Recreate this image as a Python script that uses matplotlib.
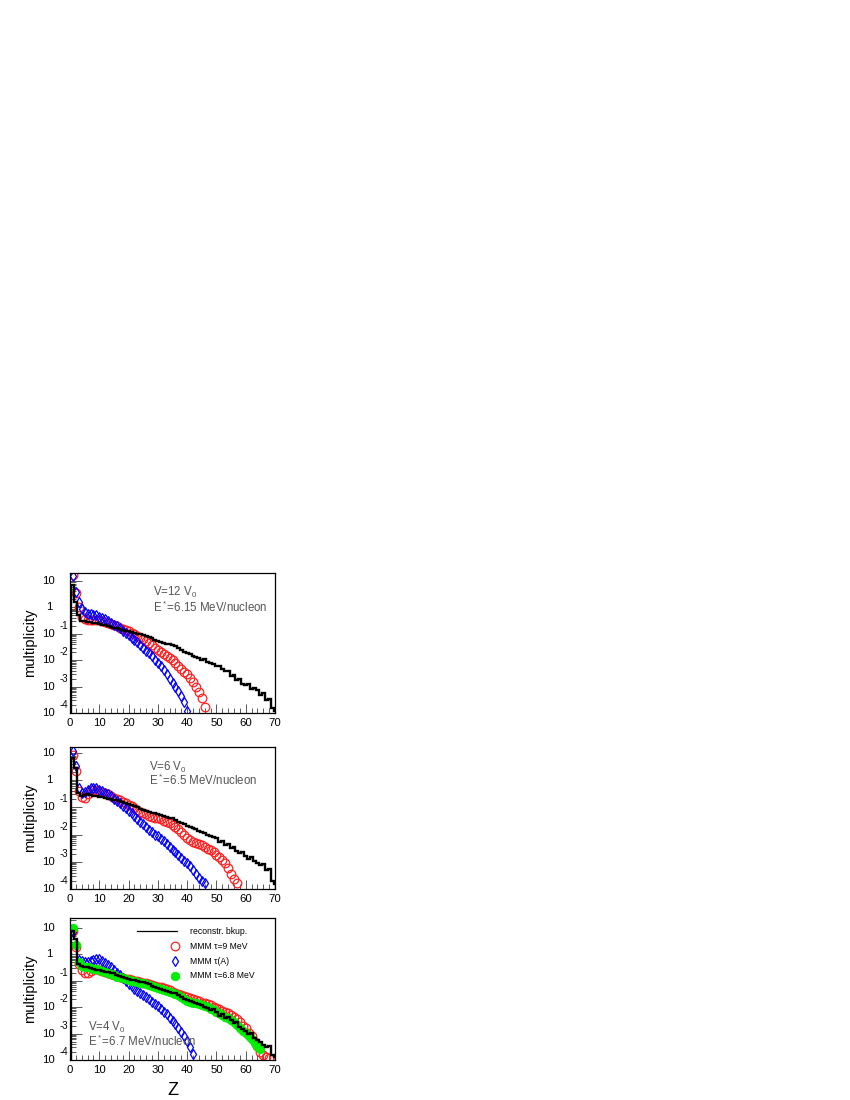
import numpy as np
import matplotlib
matplotlib.use("Agg")
import matplotlib.pyplot as plt
from matplotlib.transforms import blended_transform_factory, ScaledTranslation
from matplotlib.ticker import LogLocator, MultipleLocator, NullFormatter

plt.rcParams['font.family'] = ['Liberation Sans', 'DejaVu Sans']
plt.rcParams['mathtext.fontset'] = 'custom'
plt.rcParams['mathtext.rm'] = 'Liberation Sans'
plt.rcParams['mathtext.it'] = 'Liberation Sans'

# ---------------- data ----------------
# Panel 1: V = 12 V0, E* = 6.15 MeV/nucleon
black1 = [7, 1.6, 0.5, 0.3, 0.3, 0.27, 0.28, 0.26, 0.25, 0.24,
          0.22, 0.21, 0.19, 0.18, 0.17, 0.16, 0.15, 0.14, 0.13, 0.125,
          0.12, 0.11, 0.1, 0.095, 0.088, 0.08, 0.075, 0.068, 0.06, 0.055,
          0.05, 0.046, 0.042, 0.04, 0.036, 0.033, 0.03, 0.024, 0.02, 0.018,
          0.017, 0.014, 0.013, 0.012, 0.0105, 0.011, 0.0085, 0.008, 0.007, 0.0062,
          0.006, 0.0045, 0.0038, 0.004, 0.0026, 0.0028, 0.0018, 0.002, 0.0012, 0.0011,
          0.0013, 0.0008, 0.0009, 0.00075, 0.0005, 0.00055, 0.0003, 0.00035, 0.00016, 0.00012]
red1 = [17, 3.6, 1.0, 0.45, 0.35, 0.32, 0.33, 0.34, 0.33, 0.32,
        0.3, 0.28, 0.26, 0.24, 0.21, 0.19, 0.17, 0.155, 0.14, 0.125,
        0.11, 0.095, 0.085, 0.072, 0.062, 0.052, 0.043, 0.036, 0.03, 0.025,
        0.021, 0.017, 0.014, 0.012, 0.01, 0.008, 0.0062, 0.0048, 0.0037, 0.0029,
        0.0022, 0.0015, 0.001, 0.0006, 0.00038, 0.00017]
blue1 = [16, 3.8, 1.6, 0.9, 0.65, 0.58, 0.55, 0.53, 0.5, 0.45,
         0.4, 0.35, 0.3, 0.26, 0.22, 0.19, 0.16, 0.13, 0.11, 0.09,
         0.072, 0.058, 0.047, 0.037, 0.029, 0.023, 0.018, 0.014, 0.0105, 0.008,
         0.006, 0.0042, 0.003, 0.002, 0.0014, 0.001, 0.0007, 0.00045, 0.00025, 0.00012]

# Panel 2: V = 6 V0, E* = 6.5 MeV/nucleon
black2 = [6.5, 2.8, 0.35, 0.26, 0.28, 0.3, 0.28, 0.27, 0.26, 0.25,
          0.24, 0.22, 0.21, 0.2, 0.19, 0.18, 0.165, 0.155, 0.145, 0.135,
          0.12, 0.11, 0.1, 0.09, 0.082, 0.075, 0.07, 0.064, 0.06, 0.056,
          0.052, 0.048, 0.045, 0.042, 0.04, 0.034, 0.03, 0.026, 0.024, 0.021,
          0.019, 0.017, 0.016, 0.013, 0.012, 0.011, 0.0095, 0.0085, 0.0082, 0.0072,
          0.0055, 0.0058, 0.0042, 0.0045, 0.0032, 0.0035, 0.0025, 0.0021, 0.0023, 0.0017,
          0.0013, 0.0015, 0.0011, 0.0009, 0.00075, 0.00085, 0.0005, 0.00055, 0.00019, 0.00015]
red2 = [8.7, 2.1, 0.4, 0.25, 0.22, 0.3, 0.42, 0.45, 0.43, 0.4,
        0.36, 0.33, 0.3, 0.26, 0.23, 0.2, 0.18, 0.16, 0.14, 0.125,
        0.11, 0.095, 0.082, 0.07, 0.062, 0.055, 0.05, 0.046, 0.042, 0.04,
        0.036, 0.032, 0.029, 0.026, 0.023, 0.019, 0.016, 0.012, 0.0095, 0.0075,
        0.0062, 0.0055, 0.0048, 0.0045, 0.0042, 0.0036, 0.003, 0.0027, 0.0022, 0.0018,
        0.0015, 0.0012, 0.0009, 0.0006, 0.00035, 0.00024, 0.00016]
blue2 = [11.5, 3.2, 0.5, 0.33, 0.38, 0.45, 0.5, 0.52, 0.5, 0.45,
         0.4, 0.35, 0.3, 0.26, 0.21, 0.17, 0.14, 0.115, 0.095, 0.075,
         0.06, 0.048, 0.038, 0.03, 0.024, 0.019, 0.015, 0.012, 0.01, 0.0085,
         0.007, 0.0058, 0.0045, 0.0035, 0.0028, 0.0022, 0.0018, 0.0014, 0.0011, 0.00088,
         0.0007, 0.00052, 0.00035, 0.00025, 0.0002, 0.00016]

# Panel 3: V = 4 V0, E* = 6.7 MeV/nucleon
black3 = [8, 4, 0.45, 0.36, 0.34, 0.32, 0.3, 0.28, 0.26, 0.25,
          0.24, 0.22, 0.21, 0.2, 0.19, 0.17, 0.155, 0.14, 0.13, 0.12,
          0.11, 0.105, 0.1, 0.092, 0.087, 0.08, 0.074, 0.066, 0.058, 0.052,
          0.05, 0.045, 0.042, 0.039, 0.036, 0.034, 0.03, 0.025, 0.021, 0.018,
          0.017, 0.016, 0.014, 0.013, 0.012, 0.01, 0.0095, 0.008, 0.0085, 0.0066,
          0.0048, 0.0055, 0.0038, 0.0042, 0.0032, 0.0025, 0.0028, 0.0018, 0.0015, 0.0013,
          0.001, 0.0011, 0.0007, 0.00055, 0.0005, 0.00038, 0.00032, 0.00035, 0.00015, 0.00013]
red3 = [8, 1.9, 0.45, 0.25, 0.2, 0.2, 0.24, 0.28, 0.27, 0.25,
        0.23, 0.21, 0.19, 0.175, 0.16, 0.15, 0.14, 0.13, 0.12, 0.115,
        0.108, 0.1, 0.095, 0.09, 0.086, 0.08, 0.075, 0.07, 0.065, 0.06,
        0.056, 0.052, 0.047, 0.043, 0.038, 0.035, 0.032, 0.029, 0.027, 0.025,
        0.023, 0.021, 0.019, 0.017, 0.015, 0.014, 0.013, 0.012, 0.0105, 0.009,
        0.0082, 0.0075, 0.0068, 0.006, 0.005, 0.0042, 0.0035, 0.0027, 0.002, 0.0016,
        0.0011, 0.0008, 0.0005, 0.00033, 0.0002, 0.00015, 0.00013, 0.00012]
green3 = [10, 2.2, 0.5, 0.35, 0.33, 0.32, 0.3, 0.29, 0.27, 0.25,
          0.23, 0.21, 0.19, 0.175, 0.16, 0.145, 0.135, 0.125, 0.115, 0.11,
          0.1, 0.095, 0.09, 0.085, 0.08, 0.074, 0.068, 0.062, 0.057, 0.052,
          0.048, 0.045, 0.041, 0.038, 0.036, 0.032, 0.028, 0.024, 0.02, 0.017,
          0.016, 0.015, 0.014, 0.013, 0.012, 0.011, 0.0098, 0.0088, 0.0078, 0.0066,
          0.0058, 0.005, 0.0044, 0.0038, 0.0033, 0.0028, 0.0022, 0.0017, 0.0013, 0.0011,
          0.0008, 0.0006, 0.00044, 0.00033, 0.00025]
blue3 = [7, 2.2, 0.6, 0.55, 0.5, 0.5, 0.55, 0.62, 0.7, 0.65,
         0.58, 0.47, 0.4, 0.32, 0.25, 0.2, 0.16, 0.125, 0.1, 0.077,
         0.062, 0.05, 0.042, 0.035, 0.03, 0.025, 0.02, 0.016, 0.013, 0.011,
         0.0085, 0.0068, 0.0053, 0.004, 0.003, 0.0023, 0.0017, 0.0012, 0.0008, 0.00053,
         0.0003, 0.00017]

panel_text1 = ["V=12 V$_0$", "E$^*$=6.15 MeV/nucleon"]
panel_text2 = ["V=6 V$_0$", "E$^*$=6.5 MeV/nucleon"]
panel_text3 = ["V=4 V$_0$", "E$^*$=6.7 MeV/nucleon"]
legend_labels = ["reconstr. bkup.", "MMM \u03c4=9 MeV", "MMM \u03c4(A)", "MMM \u03c4=6.8 MeV"]
ytick_vals = [10, 1, 1e-1, 1e-2, 1e-3, 1e-4]
ytick_base = ["10", "1", "10", "10", "10", "10"]
ytick_exp = ["", "", "-1", "-2", "-3", "-4"]
xtick_vals = [0, 10, 20, 30, 40, 50, 60, 70]

RED = '#ff2020'
BLUE = '#0000ff'
GREEN = '#00ee00'
TXT = '#555555'

fig = plt.figure(figsize=(8.5, 11), dpi=100)
W, H = 850.0, 1100.0

def make_ax(top, bottom, ymax):
    ax = fig.add_axes([70 / W, 1 - bottom / H, 205 / W, (bottom - top) / H])
    ax.set_xlim(0, 70)
    ax.set_yscale('log')
    ax.set_ylim(1e-4, ymax)
    for s in ax.spines.values():
        s.set_linewidth(0.9)
        s.set_color('black')
        s.set_zorder(5)
    ax.yaxis.set_major_locator(LogLocator(base=10, numticks=10))
    ax.yaxis.set_minor_locator(LogLocator(base=10, subs=np.arange(2, 10), numticks=20))
    ax.yaxis.set_major_formatter(NullFormatter())
    ax.yaxis.set_minor_formatter(NullFormatter())
    ax.xaxis.set_major_locator(MultipleLocator(10))
    ax.xaxis.set_minor_locator(MultipleLocator(2))
    ax.tick_params(axis='y', which='major', direction='in', length=8.5, width=0.7,
                   color='0.35', left=True, right=False)
    ax.tick_params(axis='y', which='minor', direction='in', length=4, width=0.7,
                   color='0.35', left=True, right=False)
    ax.tick_params(axis='x', which='major', direction='in', length=6.5, width=0.7,
                   color='0.35', bottom=True, top=False, labelsize=8.2, pad=3.5)
    ax.tick_params(axis='x', which='minor', direction='in', length=3.3, width=0.7,
                   color='0.35', bottom=True, top=False)
    ax.set_xticks(xtick_vals)
    ax.set_xticklabels([str(v) for v in xtick_vals])
    tr = blended_transform_factory(ax.transAxes, ax.transData)
    up = ScaledTranslation(0, 8 / 100.0, fig.dpi_scale_trans)
    for v, b, e in zip(ytick_vals, ytick_base, ytick_exp):
        ax.text(-0.103, v, b, transform=tr, ha='center', va='center', fontsize=8.2)
        if e:
            ax.text(-0.032, v, e, transform=tr + up, ha='center', va='center', fontsize=7)
    ax.text(-0.195, 0.5, "multiplicity", transform=ax.transAxes, rotation=90,
            ha='center', va='center', fontsize=10.5)
    return ax

def hist(ax, vals):
    z = np.arange(1, len(vals) + 1)
    edges = np.concatenate([z - 0.5, [z[-1] + 0.5]])
    ax.stairs(vals, edges, color='black', linewidth=1.7, baseline=1e-6, fill=False, zorder=4)

def circles(ax, vals, color=RED):
    z = np.arange(1, len(vals) + 1)
    ax.plot(z, vals, 'o', ms=6.2, mfc='none', mec=color, mew=0.9, linestyle='none', zorder=2)

def diamonds(ax, vals):
    z = np.arange(1, len(vals) + 1)
    ax.plot(z, vals, 'd', ms=5.4, mfc='none', mec=BLUE, mew=0.9, linestyle='none', zorder=2)

def greens(ax, vals):
    z = np.arange(1, len(vals) + 1)
    ax.plot(z, vals, 'o', ms=6.2, mfc=GREEN, mec=GREEN, mew=0.5, linestyle='none', zorder=3)

# Panel 1
ax1 = make_ax(573, 713, 20)
circles(ax1, red1)
diamonds(ax1, blue1)
hist(ax1, black1)
ax1.text(0.405, 0.864, panel_text1[0], transform=ax1.transAxes, fontsize=8.3, color=TXT, va='center')
ax1.text(0.405, 0.757, panel_text1[1], transform=ax1.transAxes, fontsize=8.3, color=TXT, va='center')

# Panel 2
ax2 = make_ax(747, 889, 16.5)
circles(ax2, red2)
diamonds(ax2, blue2)
hist(ax2, black2)
ax2.text(0.385, 0.859, panel_text2[0], transform=ax2.transAxes, fontsize=8.3, color=TXT, va='center')
ax2.text(0.385, 0.766, panel_text2[1], transform=ax2.transAxes, fontsize=8.3, color=TXT, va='center')

# Panel 3
ax3 = make_ax(918, 1060, 24)
circles(ax3, red3)
diamonds(ax3, blue3)
greens(ax3, green3)
hist(ax3, black3)
ax3.text(0.088, 0.232, panel_text3[0], transform=ax3.transAxes, fontsize=8.3, color=TXT, va='center', zorder=6)
ax3.text(0.088, 0.134, panel_text3[1], transform=ax3.transAxes, fontsize=8.3, color=TXT, va='center', zorder=6)
ax3.set_xlabel("Z", fontsize=13, labelpad=5)

# Legend (panel 3), drawn in axes coordinates
lx0, lx1, mx, tx = 0.327, 0.522, 0.51, 0.585
ly = [0.906, 0.801, 0.697, 0.592]
ax3.plot([lx0, lx1], [ly[0], ly[0]], color='black', lw=0.9, transform=ax3.transAxes, clip_on=False)
ax3.plot([mx], [ly[1]], 'o', ms=6.2, mfc='none', mec=RED, mew=0.9, transform=ax3.transAxes)
ax3.plot([mx], [ly[2]], 'd', ms=5.4, mfc='none', mec=BLUE, mew=0.9, transform=ax3.transAxes)
ax3.plot([mx], [ly[3]], 'o', ms=6.2, mfc=GREEN, mec=GREEN, mew=0.5, transform=ax3.transAxes)
for y, lab in zip(ly, legend_labels):
    ax3.text(tx, y, lab, transform=ax3.transAxes, fontsize=6.2, va='center', ha='left')

fig.savefig("out.png", dpi=100)
